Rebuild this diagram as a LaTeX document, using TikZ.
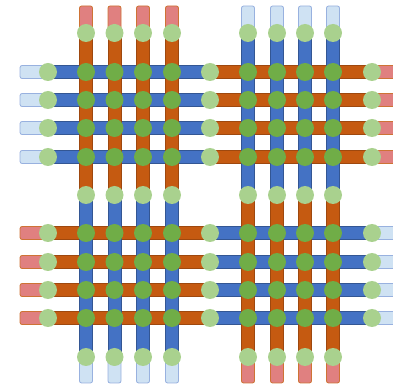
\documentclass[tikz,border=0pt]{standalone}
\usepackage{xcolor}
\usepackage{tikz}
\definecolor{weaveorange}{RGB}{197, 90, 17}
\definecolor{weaveblue}{RGB}{68, 114, 196}
\definecolor{capred}{RGB}{224, 128, 128}
\definecolor{capblue}{RGB}{207, 226, 243}
\definecolor{dotlight}{RGB}{169, 209, 142}
\definecolor{dotdark}{RGB}{112, 173, 71}
\tikzset{
  barbase/.style={line width=0.6pt},
  orangebar/.style={barbase, fill=weaveorange, draw=weaveorange!80!black},
  bluebar/.style={barbase, fill=weaveblue, draw=weaveblue!75!black},
  redcap/.style={barbase, fill=capred, draw=weaveorange!85, rounded corners=1.5pt},
  bluecap/.style={barbase, fill=capblue, draw=weaveblue!55, rounded corners=1.5pt},
  enddot/.style={fill=dotlight},
  crossdot/.style={fill=dotdark}
}

\begin{document}
\begin{tikzpicture}[x=0.25mm, y=-0.25mm]

  \useasboundingbox (0,0) rectangle (393,390);
  \clip (0,0) rectangle (393,390);

  % Horizontal strips, top band
  \foreach \y in {72,100,128,157} {
    \draw[bluecap] (20,\y-6.5) rectangle (48,\y+6.5);
    \draw[bluebar] (48,\y-6.5) rectangle (210,\y+6.5);
    \draw[orangebar] (210,\y-6.5) rectangle (372,\y+6.5);
    \draw[redcap] (372,\y-6.5) rectangle (400,\y+6.5);
  }

  % Horizontal strips, bottom band
  \foreach \y in {233,262,290,318} {
    \draw[redcap] (20,\y-6.5) rectangle (48,\y+6.5);
    \draw[orangebar] (48,\y-6.5) rectangle (210,\y+6.5);
    \draw[bluebar] (210,\y-6.5) rectangle (372,\y+6.5);
    \draw[bluecap] (372,\y-6.5) rectangle (400,\y+6.5);
  }

  % Vertical strips, left band
  \foreach \x in {86,114.5,143,172} {
    \draw[redcap] (\x-6.5,6) rectangle (\x+6.5,33);
    \draw[orangebar] (\x-6.5,33) rectangle (\x+6.5,195);
    \draw[bluebar] (\x-6.5,195) rectangle (\x+6.5,357);
    \draw[bluecap] (\x-6.5,357) rectangle (\x+6.5,383);
  }

  % Vertical strips, right band
  \foreach \x in {248,277,305,333} {
    \draw[bluecap] (\x-6.5,6) rectangle (\x+6.5,33);
    \draw[bluebar] (\x-6.5,33) rectangle (\x+6.5,195);
    \draw[orangebar] (\x-6.5,195) rectangle (\x+6.5,357);
    \draw[redcap] (\x-6.5,357) rectangle (\x+6.5,383);
  }

  % Joints
  \foreach \y in {72,100,128,157,233,262,290,318}
    \foreach \x in {48,210,372}
      \fill[enddot] (\x,\y) circle[radius=9];
  \foreach \x in {86,114.5,143,172,248,277,305,333}
    \foreach \y in {33,195,357}
      \fill[enddot] (\x,\y) circle[radius=9];

  % Crossings
  \foreach \y in {72,100,128,157,233,262,290,318}
    \foreach \x in {86,114.5,143,172,248,277,305,333}
      \fill[crossdot] (\x,\y) circle[radius=9];

\end{tikzpicture}
\end{document}
